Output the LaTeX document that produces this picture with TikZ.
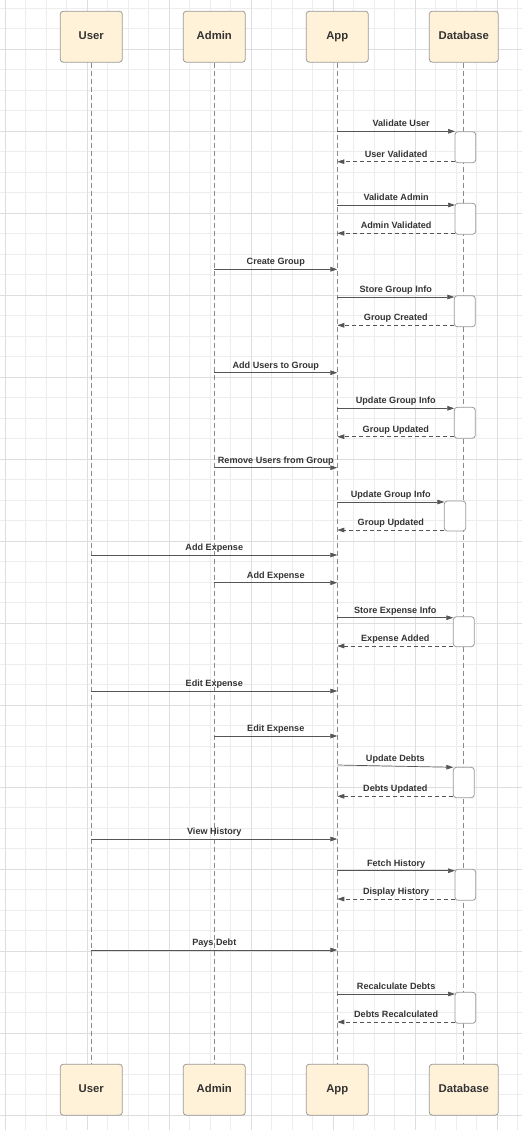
\documentclass[tikz,border=0pt]{standalone}
\usepackage{fontspec}
\setmainfont{Liberation Sans}
\usetikzlibrary{arrows.meta}
\definecolor{gridminor}{HTML}{EDEDED}
\definecolor{gridmajor}{HTML}{DEDEDE}
\definecolor{boxfill}{HTML}{FFF2D9}
\definecolor{boxline}{HTML}{999999}
\definecolor{txt}{HTML}{333333}
\definecolor{lifecol}{HTML}{8A8A8A}
\definecolor{msgcol}{HTML}{555555}
\tikzset{
  actor/.style={draw=boxline, line width=0.8pt, fill=boxfill, rounded corners=3pt,
    minimum width=62pt, minimum height=51pt, inner sep=0pt, text=txt,
    text height=8.2pt, text depth=3pt,
    font=\fontsize{11.3}{13}\selectfont\bfseries},
  dbactor/.style={actor, minimum width=69pt},
  lifeline/.style={draw=lifecol, line width=0.7pt, dash pattern=on 5pt off 3pt},
  actbox/.style={draw=boxline, line width=0.8pt, fill=white, rounded corners=3pt,
    inner sep=0pt},
  msg/.style={draw=msgcol, line width=0.7pt, -{Triangle[length=7pt,width=4.6pt]}},
  reply/.style={msg, dash pattern=on 4pt off 3pt},
  lbl/.style={text=txt, font=\fontsize{9.1}{10}\selectfont\bfseries, inner sep=0pt,
    anchor=base, yshift=4.6pt, midway}
}
\begin{document}
\begin{tikzpicture}[x=1pt,y=-1pt]
\useasboundingbox (0,0) rectangle (522,1130);
% grid
\foreach \k in {0,...,25} \draw[gridminor, line width=0.8pt] ({5+20.5*\k},0) -- ({5+20.5*\k},1130);
\foreach \k in {0,...,54} \draw[gridminor, line width=0.8pt] (0,{8.3+20.5*\k}) -- (522,{8.3+20.5*\k});
\foreach \k in {0,...,6} \draw[gridmajor, line width=1pt] ({5+82*\k},0) -- ({5+82*\k},1130);
\foreach \k in {0,...,13} \draw[gridmajor, line width=1pt] (0,{49.3+82*\k}) -- (522,{49.3+82*\k});

% actors
\node[actor] (uT) at (91.3,36.7) {User};
\node[actor] (aT) at (214.3,36.7) {Admin};
\node[actor] (pT) at (337.3,36.7) {App};
\node[dbactor] (dT) at (463.8,36.7) {Database};
\node[actor] (uB) at (91.3,1089.7) {User};
\node[actor] (aB) at (214.3,1089.7) {Admin};
\node[actor] (pB) at (337.3,1089.7) {App};
\node[dbactor] (dB) at (463.8,1089.7) {Database};

% lifelines
\draw[lifeline] (uT.south) -- (uB.north);
\draw[lifeline] (aT.south) -- (aB.north);
\draw[lifeline] (pT.south) -- (pB.north);
\draw[lifeline] (dT.south) -- (dB.north);

% activation boxes
\node[actbox, minimum width=20.7pt, minimum height=31pt] (act1) at (465.35,147.2) {};
\node[actbox, minimum width=20.7pt, minimum height=31pt] (act2) at (465.35,218.8) {};
\node[actbox, minimum width=21pt, minimum height=31pt] (act3) at (464.8,311.2) {};
\node[actbox, minimum width=21pt, minimum height=31pt] (act4) at (464.8,422.8) {};
\node[actbox, minimum width=21.4pt, minimum height=30pt] (act5) at (455,516) {};
\node[actbox, minimum width=21pt, minimum height=30pt] (act6) at (463.8,631.7) {};
\node[actbox, minimum width=21pt, minimum height=30.4pt] (act7) at (463.8,782.5) {};
\node[actbox, minimum width=20.7pt, minimum height=31pt] (act8) at (465.35,884.8) {};
\node[actbox, minimum width=20.7pt, minimum height=31pt] (act9) at (465.35,1007.8) {};

% lifeline anchor points
\coordinate (p1) at (337.3,131.3);  \coordinate (d1) at (455,131.3);
\coordinate (p2) at (337.3,161.7);  \coordinate (d2) at (455,161.7);
\coordinate (p3) at (337.3,205);    \coordinate (d3) at (455,205);
\coordinate (p4) at (337.3,233.3);  \coordinate (d4) at (455,233.3);
\coordinate (a5) at (214.3,269.3);  \coordinate (p5) at (337.3,269.3);
\coordinate (p6) at (337.3,297);    \coordinate (d6) at (454.3,297);
\coordinate (p7) at (337.3,325.3);  \coordinate (d7) at (454.3,325.3);
\coordinate (a8) at (214.3,372.7);  \coordinate (p8) at (337.3,372.7);
\coordinate (p9) at (337.3,408.3);  \coordinate (d9) at (454.3,408.3);
\coordinate (p10) at (337.3,436.7); \coordinate (d10) at (454.3,436.7);
\coordinate (a11) at (214.3,467.7); \coordinate (p11) at (337.3,467.7);
\coordinate (p12) at (337.3,502);   \coordinate (d12) at (444.3,502);
\coordinate (p13) at (337.3,530);   \coordinate (d13) at (444.3,530);
\coordinate (u14) at (91.3,555);    \coordinate (p14) at (337.3,555);
\coordinate (a15) at (214.3,582.7); \coordinate (p15) at (337.3,582.7);
\coordinate (p16) at (337.3,617.7); \coordinate (d16) at (453.3,617.7);
\coordinate (p17) at (337.3,646);   \coordinate (d17) at (453.3,646);
\coordinate (u18) at (91.3,691);    \coordinate (p18) at (337.3,691);
\coordinate (a19) at (214.3,736);   \coordinate (p19) at (337.3,736);
\coordinate (p20) at (337.3,765);   \coordinate (d20) at (453.3,767.3);
\coordinate (p21) at (337.3,796.3); \coordinate (d21) at (453.3,796.3);
\coordinate (u22) at (91.3,839);    \coordinate (p22) at (337.3,839);
\coordinate (p23) at (337.3,870.7); \coordinate (d23) at (455,870.7);
\coordinate (p24) at (337.3,899);   \coordinate (d24) at (455,899);
\coordinate (u25) at (91.3,950);    \coordinate (p25) at (337.3,950);
\coordinate (p26) at (337.3,994);   \coordinate (d26) at (455,994);
\coordinate (p27) at (337.3,1022);  \coordinate (d27) at (455,1022);

% messages
\draw[msg] (p1) -- node[lbl, xshift=5pt] {Validate User} (d1);
\draw[reply] (d2) -- node[lbl] {User Validated} (p2);
\draw[msg] (p3) -- node[lbl] {Validate Admin} (d3);
\draw[reply] (d4) -- node[lbl] {Admin Validated} (p4);
\draw[msg] (a5) -- node[lbl] {Create Group} (p5);
\draw[msg] (p6) -- node[lbl] {Store Group Info} (d6);
\draw[reply] (d7) -- node[lbl] {Group Created} (p7);
\draw[msg] (a8) -- node[lbl] {Add Users to Group} (p8);
\draw[msg] (p9) -- node[lbl] {Update Group Info} (d9);
\draw[reply] (d10) -- node[lbl] {Group Updated} (p10);
\draw[msg] (a11) -- node[lbl] {Remove Users from Group} (p11);
\draw[msg] (p12) -- node[lbl] {Update Group Info} (d12);
\draw[reply] (d13) -- node[lbl] {Group Updated} (p13);
\draw[msg] (u14) -- node[lbl] {Add Expense} (p14);
\draw[msg] (a15) -- node[lbl] {Add Expense} (p15);
\draw[msg] (p16) -- node[lbl] {Store Expense Info} (d16);
\draw[reply] (d17) -- node[lbl] {Expense Added} (p17);
\draw[msg] (u18) -- node[lbl] {Edit Expense} (p18);
\draw[msg] (a19) -- node[lbl] {Edit Expense} (p19);
\draw[msg] (p20) -- node[lbl] {Update Debts} (d20);
\draw[reply] (d21) -- node[lbl] {Debts Updated} (p21);
\draw[msg] (u22) -- node[lbl] {View History} (p22);
\draw[msg] (p23) -- node[lbl] {Fetch History} (d23);
\draw[reply] (d24) -- node[lbl] {Display History} (p24);
\draw[msg] (u25) -- node[lbl] {Pays Debt} (p25);
\draw[msg] (p26) -- node[lbl] {Recalculate Debts} (d26);
\draw[reply] (d27) -- node[lbl] {Debts Recalculated} (p27);
\end{tikzpicture}
\end{document}
